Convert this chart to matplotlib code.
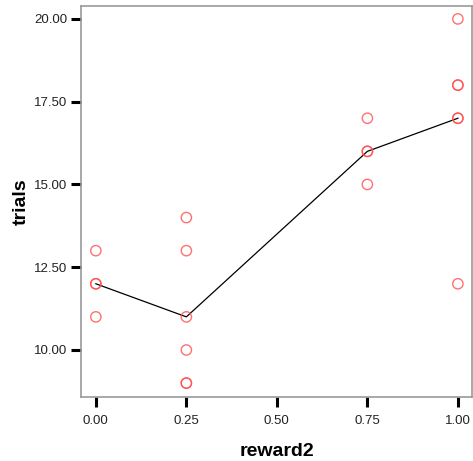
import matplotlib
matplotlib.use("Agg")
import matplotlib.pyplot as plt
import numpy as np
import pandas as pd

reward2 = [0.0, 0.0, 0.0, 0.0,
           0.25, 0.25, 0.25, 0.25, 0.25, 0.25,
           0.75, 0.75, 0.75, 0.75,
           1.0, 1.0, 1.0, 1.0, 1.0, 1.0]
trials = [13, 12, 12, 11,
          14, 13, 11, 10, 9, 9,
          17, 16, 16, 15,
          20, 18, 18, 17, 17, 12]
xticks = [0.0, 0.25, 0.5, 0.75, 1.0]
yticks = [10.0, 12.5, 15.0, 17.5, 20.0]

plt.rcParams['font.family'] = ['Liberation Sans', 'DejaVu Sans']

df = pd.DataFrame({"reward2": reward2, "trials": trials})
means = df.groupby("reward2")["trials"].mean()

fig = plt.figure(figsize=(4.73, 4.61), dpi=100)
ax = fig.add_axes([81/473, 1 - 397/461, (472-81)/473, (397-6)/461])

ax.plot(means.index, means.values, color="black", lw=0.9, zorder=2)
ax.scatter(df["reward2"], df["trials"], s=55, facecolors="none",
           edgecolors=(1.0, 0.3, 0.3, 0.8), linewidths=1.0, zorder=3)

ax.set_xlim(-0.041, 1.039)
ax.set_ylim(8.58, 20.39)
ax.set_xticks(xticks)
ax.set_xticklabels([f"{v:.2f}" for v in xticks])
ax.set_yticks(yticks)
ax.set_yticklabels([f"{v:.2f}" for v in yticks])

for s in ax.spines.values():
    s.set_color("#999999")
    s.set_linewidth(1.2)
ax.tick_params(axis="both", which="both", length=7, width=2.2, color="black",
               labelsize=9.5, labelcolor="#222222", direction="out")
ax.tick_params(axis="x", pad=6)
ax.tick_params(axis="y", pad=3)
ax.tick_params(top=False, right=False)

ax.set_xlabel("reward2", fontsize=14, fontweight="bold", va="center")
ax.set_ylabel("trials", fontsize=14, fontweight="bold", va="center")
ax.xaxis.set_label_coords(0.5, (397 - 451) / 391)
ax.yaxis.set_label_coords((21.5 - 81) / 391, 0.5)

fig.savefig("out.png", dpi=100)
